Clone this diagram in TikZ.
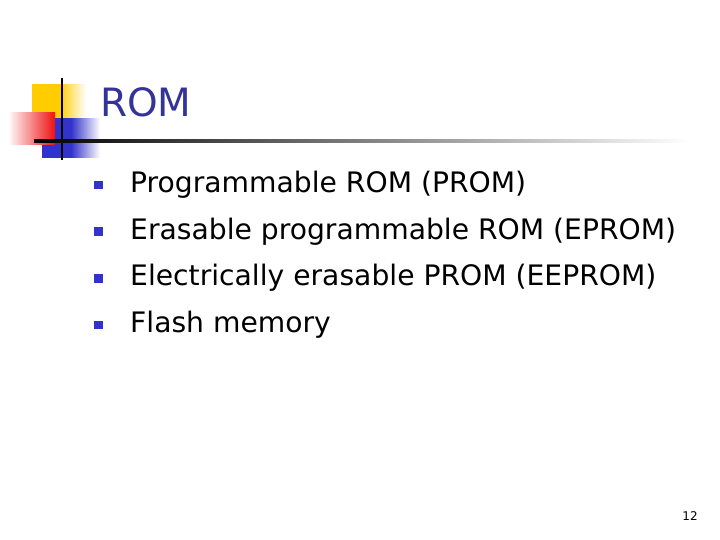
\documentclass[tikz,border=0pt]{standalone}
\usepackage{fontspec}
\setmainfont{DejaVu Sans}
\usepackage{tikz}
\usetikzlibrary{positioning}

\definecolor{titleblue}{HTML}{333399}
\definecolor{bulletblue}{HTML}{3333CC}
\definecolor{logoyellow}{HTML}{FFCC00}
\definecolor{logored}{HTML}{EE1111}

\begin{document}
\begin{tikzpicture}[
                x=1pt, y=-1pt,
                item/.style={anchor=west, inner sep=0pt, text height=19pt, text depth=6pt, font=\fontsize{28.2}{32}\selectfont},
                bullet/.style={fill=bulletblue, minimum size=8.5pt, inner sep=0pt}
            ]
            \useasboundingbox (0,0) rectangle (720,540);

            % Logo
            \shade[left color=logoyellow, right color=white, middle color=logoyellow] (32,85) rectangle (86,119);
            \shade[left color=bulletblue, right color=white, middle color=bulletblue] (42,119) rectangle (100,158);
            \shade[left color=logored!5, right color=logored] (10,113) rectangle (55,145);
            \draw[line width=2.5pt] (62,78) -- (62,160);
            \shade[left color=black, middle color=black!50, right color=white] (34,140) rectangle (690,142.5);

            % Titre
            \node[anchor=base west, inner sep=0pt, text=titleblue, font=\fontsize{39}{46}\selectfont] (title) at (100,117) {ROM};

            % Les puces
            \node[item] (prom) at (130,186) {Programmable ROM (PROM)};
            \node[item, below=21.3pt of prom.south west, anchor=north west] (eprom) {Erasable programmable ROM (EPROM)};
            \node[item, below=21.3pt of eprom.south west, anchor=north west] (eeprom) {Electrically erasable PROM (EEPROM)};
            \node[item, below=21.3pt of eeprom.south west, anchor=north west] (flash) {Flash memory};
            \foreach \it in {prom, eprom, eeprom, flash}
                \node[bullet, xshift=-31.5pt, yshift=1pt] at (\it.west) {};

            % Numero de page
            \node[font=\fontsize{12}{14}\selectfont] (page) at (690,516) {12};
        \end{tikzpicture}
\end{document}
